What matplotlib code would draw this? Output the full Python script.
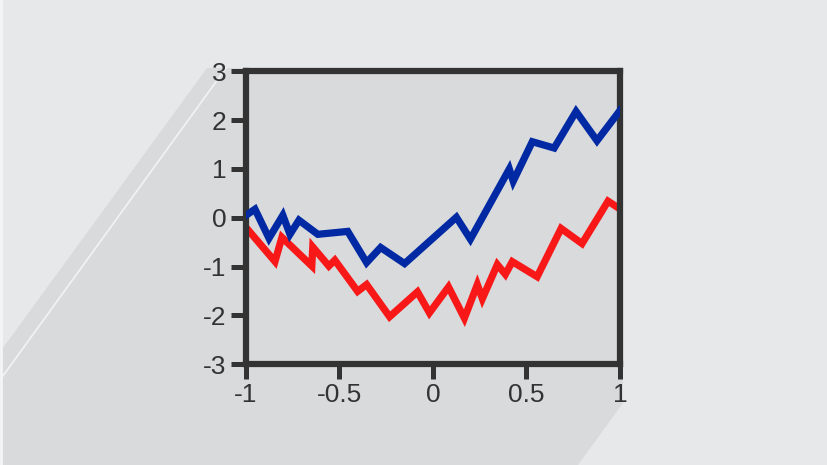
import matplotlib.pyplot as plt
from matplotlib.patches import Polygon
from matplotlib.lines import Line2D

# blue series
blue_x = [-1.0, -0.952, -0.877, -0.803, -0.765, -0.717, -0.616, -0.456, -0.355,
          -0.28, -0.152, 0.125, 0.2, 0.408, 0.429, 0.531, 0.648, 0.765, 0.877, 1.0]
blue_y = [0.05, 0.175, -0.42, 0.05, -0.34, -0.05, -0.34, -0.28, -0.92,
          -0.61, -0.94, 0.01, -0.44, 1.0, 0.75, 1.56, 1.43, 2.18, 1.58, 2.2]

# red series
red_x = [-1.0, -0.845, -0.808, -0.648, -0.643, -0.557, -0.525, -0.403, -0.355,
         -0.232, -0.083, -0.019, 0.083, 0.168, 0.237, 0.264, 0.344, 0.387,
         0.424, 0.557, 0.685, 0.797, 0.936, 1.0]
red_y = [-0.2, -0.897, -0.402, -0.99, -0.60, -0.99, -0.87, -1.51, -1.37,
         -2.03, -1.52, -1.95, -1.42, -2.06, -1.37, -1.66, -0.96, -1.16,
         -0.90, -1.21, -0.22, -0.53, 0.34, 0.18]

x_ticks = [-1, -0.5, 0, 0.5, 1]
x_labels = ['-1', '-0.5', '0', '0.5', '1']
y_ticks = [-3, -2, -1, 0, 1, 2, 3]
y_labels = ['-3', '-2', '-1', '0', '1', '2', '3']

W, H = 828, 465
bg = '#e7e8ea'
shade = '#d9dadc'
dark = '#333333'

plt.rcParams['font.family'] = ['Liberation Sans', 'DejaVu Sans']

fig = plt.figure(figsize=(W / 100, H / 100), dpi=100, facecolor=bg)


def px(pts):
    return [(x / W, 1 - y / H) for x, y in pts]


# long shadow behind the plot box
shadow = Polygon(px([(207, 68), (623, 68), (623, 403), (578, 465),
                     (0, 465), (0, 352)]),
                 closed=True, transform=fig.transFigure,
                 facecolor=shade, edgecolor='none', zorder=0)
fig.patches.append(shadow)
fig.lines.append(Line2D([226 / W, 0], [1 - 68 / H, 1 - 380 / H],
                        transform=fig.transFigure, color='#f2f3f4',
                        linewidth=1.2, zorder=1))
fig.lines.append(Line2D([1 / W, 1 / W], [0, 1], transform=fig.transFigure,
                        color='#f4f5f6', linewidth=2, zorder=1))

ax = fig.add_axes([246 / W, 1 - 364 / H, 374 / W, 292.5 / H])
ax.set_zorder(5)
ax.set_facecolor(shade)

ax.plot(blue_x, blue_y, color='#0029a3', linewidth=5.2,
        solid_joinstyle='miter', zorder=3)
ax.plot(red_x, red_y, color='#f81818', linewidth=5.2,
        solid_joinstyle='miter', zorder=2)

ax.set_xlim(-1, 1)
ax.set_ylim(-3, 3)
ax.set_xticks(x_ticks)
ax.set_xticklabels(x_labels)
ax.set_yticks(y_ticks)
ax.set_yticklabels(y_labels)

for s in ax.spines.values():
    s.set_color(dark)
    s.set_linewidth(4.5)

ax.tick_params(direction='out', length=10.5, width=3.6, color=dark,
               labelcolor=dark, labelsize=19, pad=3.5)

fig.savefig('out.png', dpi=100, facecolor=bg)
